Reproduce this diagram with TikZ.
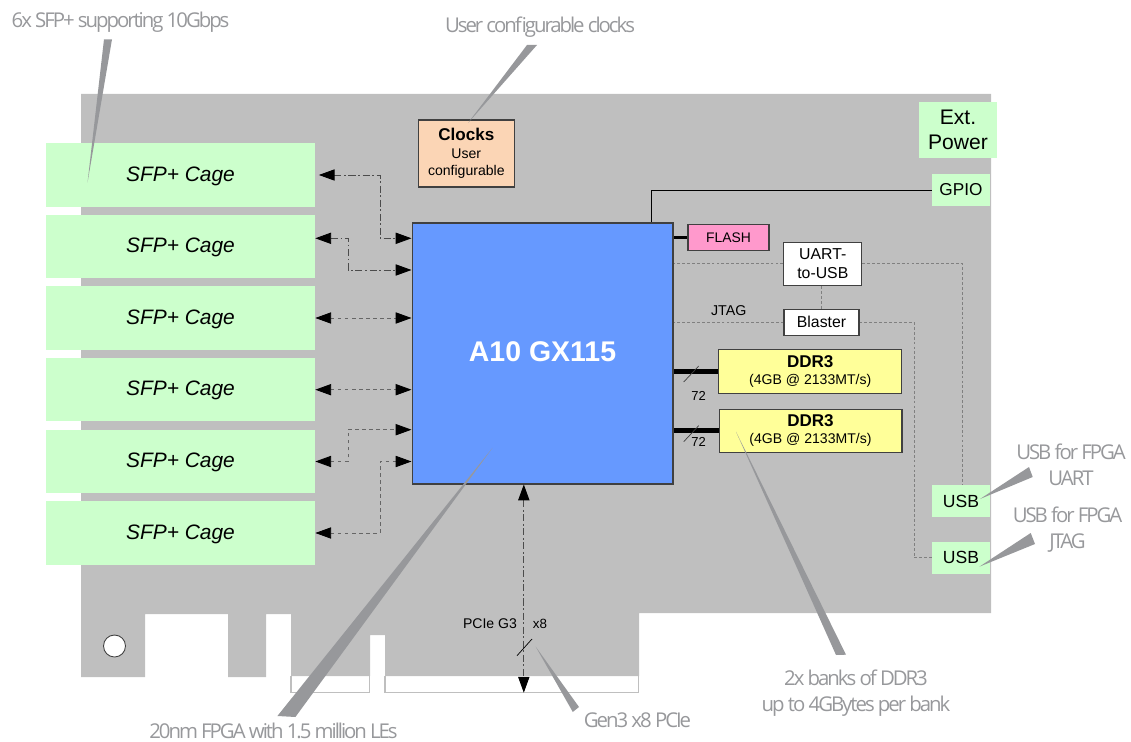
\documentclass[tikz,border=0pt]{standalone}
\usepackage{fontspec}
\setmainfont{Liberation Sans}
\newfontfamily\callfont[LetterSpace=-10]{Open Sans}
\usetikzlibrary{arrows.meta}
\definecolor{boardgray}{HTML}{BFBFBF}
\definecolor{callgray}{HTML}{97989B}
\definecolor{edgegray}{HTML}{404040}
\definecolor{sfpgreen}{HTML}{CCFFCC}
\definecolor{fpgablue}{HTML}{6699FF}
\definecolor{clockpeach}{HTML}{FBD5B5}
\definecolor{flashpink}{HTML}{FF99CC}
\definecolor{ddryellow}{HTML}{FFFF99}
\newcommand{\fs}[2]{\fontsize{#1}{#2}\selectfont}
\tikzset{
  box/.style={draw=edgegray,line width=0.6pt,inner sep=0pt,align=center},
  greenbox/.style={fill=sfpgreen,inner sep=0pt,align=center},
  call/.style={text=callgray,inner sep=0pt,align=center,font=\callfont\fs{11.6}{14.7}},
  plain/.style={inner sep=0pt,align=center},
  wedge/.style={fill=callgray,draw=none},
  dashdot/.style={<->,gray!60!black,line width=0.5pt,dash pattern=on 4pt off 1.5pt on 1pt off 1.5pt},
  dots/.style={<->,gray!80!black,line width=0.5pt,dash pattern=on 2pt off 2pt},
  thin dots/.style={gray,line width=0.5pt,dash pattern=on 1.6pt off 1.2pt},
  >={Triangle[length=9pt,width=6.4pt,color=black]}
}
\begin{document}
\begin{tikzpicture}[x=0.02cm,y=-0.02cm]
  \useasboundingbox (0,0) rectangle (1131,742);
  \fill[boardgray] (81,94) -- (991,94) -- (991,613) -- (639,613) -- (639,676)
    -- (385,676) -- (385,635) -- (370,635) -- (370,676) -- (291,676)
    -- (291,614) -- (266,614) -- (266,677) -- (228,677) -- (228,614)
    -- (145,614) -- (145,677) -- (81,677) -- cycle;
  \draw[boardgray,line width=1.1pt] (291,676) -- (291,692.5) -- (369.5,692.5) -- (369.5,676);
  \draw[boardgray,line width=1.1pt] (385,676) -- (385,692.5) -- (638.5,692.5) -- (638.5,676);
  \draw[edgegray,fill=white,line width=0.5pt] (114.5,646) circle (11);

  \foreach \n/\y in {1/175,2/246.5,3/318,4/389.7,5/461.5,6/533} {
    \node[greenbox,minimum width=5.38cm,minimum height=1.27cm,text depth=1.2pt,font=\fs{11.9}{14}\itshape]
      (sfp\n) at (180.5,\y) {SFP+ Cage};
  }
  \node[box,fill=fpgablue,minimum width=5.22cm,minimum height=5.22cm,text=white,text depth=2.3pt,font=\fs{16.2}{19}\bfseries]
    (fpga) at (542.5,353.5) {A10 GX115};
  \node[box,fill=clockpeach,minimum width=1.91cm,minimum height=1.34cm,font=\fs{8}{9.6}]
    (clocks) at (466.3,153.5) {{\fs{9.7}{9.6}\bfseries Clocks}\\[0.6pt]User\\configurable};
  \node[greenbox,minimum width=1.56cm,minimum height=1.12cm,font=\fs{12}{14.5}]
    (extpower) at (958,130) {Ext.\\Power};
  \node[greenbox,minimum width=1.16cm,minimum height=0.64cm,font=\fs{9.8}{12}]
    (gpio) at (961,190) {GPIO};
  \node[box,fill=flashpink,minimum width=1.62cm,minimum height=0.51cm,font=\fs{7.9}{10}]
    (flash) at (728.5,237.5) {FLASH};
  \node[box,fill=white,minimum width=1.56cm,minimum height=0.87cm,font=\fs{9}{11}]
    (uart) at (822.8,263.8) {UART-\\to-USB};
  \node[box,fill=white,minimum width=1.5cm,minimum height=0.53cm,font=\fs{9}{11}]
    (blaster) at (821.5,322.3) {Blaster};
  \node[box,fill=ddryellow,minimum width=3.66cm,minimum height=0.87cm,font=\fs{8}{10.8}]
    (ddr1) at (810.2,371.7) {{\fs{9.7}{10.8}\bfseries DDR3}\\[-1pt](4GB @ 2133MT/s)};
  \node[box,fill=ddryellow,minimum width=3.66cm,minimum height=0.87cm,font=\fs{8}{10.8}]
    (ddr2) at (810.5,430.8) {{\fs{9.7}{10.8}\bfseries DDR3}\\[-1pt](4GB @ 2133MT/s)};
  \node[greenbox,minimum width=1.16cm,minimum height=0.64cm,font=\fs{10}{12}]
    (usb1) at (961,501) {USB};
  \node[greenbox,minimum width=1.16cm,minimum height=0.64cm,font=\fs{10}{12}]
    (usb2) at (961,557.7) {USB};

  \draw[dashdot] ([xshift=2pt]sfp1.east) -| (380,238.3) -- (fpga.west |- 0,238.3);
  \draw[dashdot] (sfp2.east |- 0,238.3) -| (348.3,270) -- (fpga.west |- 0,270);
  \draw[dots] (sfp3.east) -- (fpga.west |- sfp3.east);
  \draw[dots] (sfp4.east) -- (fpga.west |- sfp4.east);
  \draw[dots] (sfp5.east) -| (348,429.7) -- (fpga.west |- 0,429.7);
  \draw[dots] (sfp6.east) -| (380,461.5) -- (fpga.west |- 0,461.5);
  \draw[dashdot] (523.8,0 |- fpga.south) -- (523.8,692.7);

  \draw[black,line width=0.5pt] (gpio.west) -- (651,190) -- (651,0 |- fpga.north);
  \draw[black,line width=1.2pt] (flash.west) -- (fpga.east |- flash.west);
  \draw[thin dots] (uart.west) -- (fpga.east |- uart.west);
  \draw[thin dots] (uart.east) -| (962,0 |- usb1.north);
  \draw[thin dots] (uart.south -| blaster.north) -- (blaster.north);
  \draw[thin dots] (blaster.west) -- (fpga.east |- blaster.west);
  \draw[thin dots] (blaster.east) -| (914,0 |- usb2.west) -- (usb2.west);
  \draw[black,line width=2.8pt] (ddr1.west) -- (fpga.east |- ddr1.west);
  \draw[black,line width=2.8pt] (ddr2.west) -- (fpga.east |- ddr2.west);
  \draw[edgegray,line width=0.4pt] (683.7,382) -- (698.7,366);
  \draw[edgegray,line width=0.4pt] (683.7,441.7) -- (698.7,425.7);
  \draw[black,line width=0.4pt] (517,655.7) -- (532,639);

  \node[plain,font=\fs{7.4}{9}] (bus1) at (698.7,395.7) {72};
  \node[plain,font=\fs{7.4}{9}] (bus2) at (698.7,442.3) {72};
  \node[plain,font=\fs{8.1}{10}] (jtag) at (728.7,311) {JTAG};
  \node[plain,font=\fs{8}{10}] (pcie) at (490,624) {PCIe G3};
  \node[plain,font=\fs{7.6}{10}] (lanes) at (540,624) {x8};

  \foreach \ax/\ay/\bx/\by/\tx/\ty in {
    104/39.3/112/39.3/87.5/182.7,
    527/45/537/45/468/123,
    836/655/846/654.7/736/431.7,
    1029/467/1032.7/477/980/499,
    1030.7/533/1035/544/979.3/566.7,
    277.4/716/295.4/717/492.4/448,
    572.8/712/579/707/535.7/646.7} {
    \fill[wedge] (\ax,\ay) -- (\bx,\by) -- (\tx,\ty) -- cycle;
  }
  \node[call] (sfpnote) at (120.5,22) {6x SFP+ supporting 10Gbps};
  \node[call] (clocknote) at (540,27) {User configurable clocks};
  \node[call] (uartnote) at (1071,465) {USB for FPGA\\UART};
  \node[call] (jtagnote) at (1067.5,530) {USB for FPGA\\JTAG};
  \node[call] (ddrnote) at (856,693) {2x banks of DDR3\\up to 4GBytes per bank};
  \node[call] (pcienote) at (637.5,720) {Gen3 x8 PCIe};
  \node[call] (fpganote) at (273.5,731) {20nm FPGA with 1.5 million LEs};
\end{tikzpicture}
\end{document}
